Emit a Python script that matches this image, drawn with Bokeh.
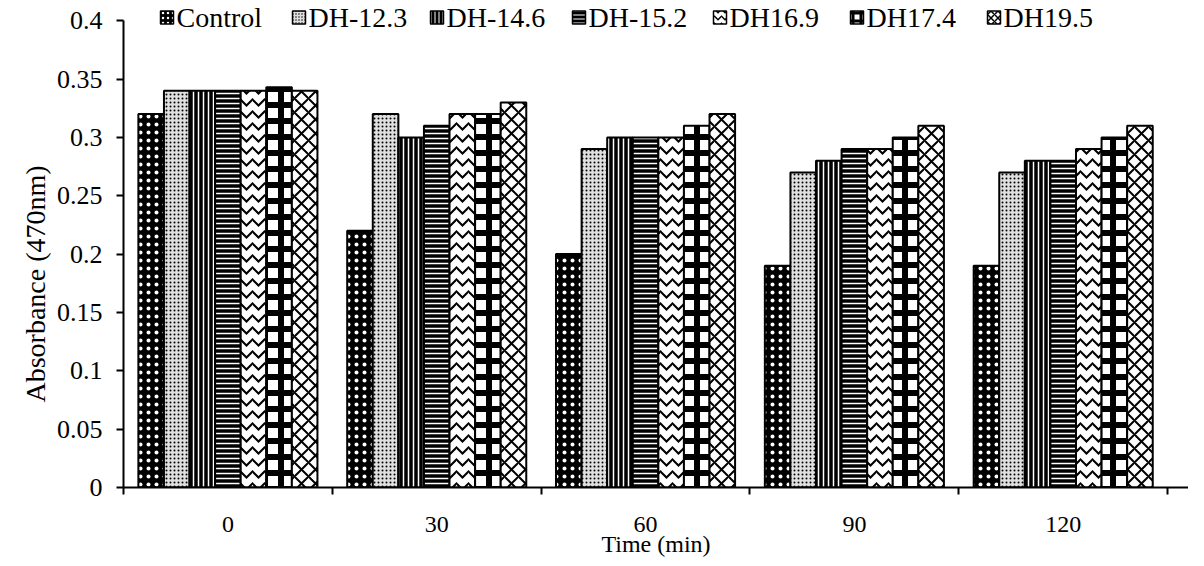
from bokeh.plotting import figure
from bokeh.models import ColumnDataSource, FixedTicker, Range1d, Title
from bokeh.core.properties import value
from bokeh.transform import dodge
from bokeh.embed import file_html
from bokeh.resources import INLINE

times = ["0", "30", "60", "90", "120"]
series = ["Control", "DH-12.3", "DH-14.6", "DH-15.2", "DH16.9", "DH17.4", "DH19.5"]
control = [0.32, 0.22, 0.20, 0.19, 0.19]
dh_12_3 = [0.34, 0.32, 0.29, 0.27, 0.27]
dh_14_6 = [0.34, 0.30, 0.30, 0.28, 0.28]
dh_15_2 = [0.34, 0.31, 0.30, 0.29, 0.28]
dh_16_9 = [0.34, 0.32, 0.30, 0.29, 0.29]
dh_17_4 = [0.343, 0.32, 0.31, 0.30, 0.30]
dh_19_5 = [0.34, 0.33, 0.32, 0.31, 0.31]
values = [control, dh_12_3, dh_14_6, dh_15_2, dh_16_9, dh_17_4, dh_19_5]
y_ticks = [0, 0.05, 0.1, 0.15, 0.2, 0.25, 0.3, 0.35, 0.4]

FONT = "Liberation Serif"

# layout constants
W, H = 1188, 560
LEFT, BOTTOM = 123, 73
X0, X1 = -0.5, 4.6
Y1 = 0.4173
px_per_x = (W - LEFT) / (X1 - X0)
legend_px = [37, 169, 307, 449, 590, 727, 864]   # legend item left edges, px from frame left
legend_y = 0.4028
GLYPH = 13

data = {"idx": list(range(len(times)))}
for name, vals in zip(series, values):
    data[name] = vals
src = ColumnDataSource(data)

p = figure(width=W, height=H, output_backend="svg", toolbar_location=None,
           x_range=Range1d(X0, X1), y_range=Range1d(0, Y1),
           min_border_left=LEFT, min_border_right=0, min_border_top=0, min_border_bottom=BOTTOM)
p.outline_line_color = None
p.xgrid.visible = False
p.ygrid.visible = False

styles = [
    dict(fill_color="black", hatch_pattern="dot", hatch_color="white", hatch_scale=8, hatch_weight=3),
    dict(fill_color="#e0e0e0", hatch_pattern="dot", hatch_color="black", hatch_scale=4, hatch_weight=1),
    dict(fill_color="black", hatch_pattern="vertical_line", hatch_color="white", hatch_scale=5, hatch_weight=1.5),
    dict(fill_color="black", hatch_pattern="horizontal_line", hatch_color="white", hatch_scale=5, hatch_weight=1.5),
    dict(fill_color="white", hatch_pattern="horizontal_wave", hatch_color="black", hatch_scale=12, hatch_weight=2),
    dict(fill_color="white", hatch_pattern="cross", hatch_color="black", hatch_scale=16, hatch_weight=6),
    dict(fill_color="white", hatch_pattern="diagonal_cross", hatch_color="black", hatch_scale=14, hatch_weight=2),
]
legend_styles = [
    dict(fill_color="black", hatch_pattern="dot", hatch_color="white", hatch_scale=5, hatch_weight=2),
    dict(fill_color="#e0e0e0", hatch_pattern="dot", hatch_color="black", hatch_scale=3, hatch_weight=1),
    dict(fill_color="black", hatch_pattern="vertical_line", hatch_color="white", hatch_scale=4, hatch_weight=1),
    dict(fill_color="black", hatch_pattern="horizontal_line", hatch_color="white", hatch_scale=4, hatch_weight=1),
    dict(fill_color="white", hatch_pattern="horizontal_wave", hatch_color="black", hatch_scale=7, hatch_weight=1.5),
    dict(fill_color="white", hatch_pattern="cross", hatch_color="black", hatch_scale=8, hatch_weight=3),
    dict(fill_color="white", hatch_pattern="diagonal_cross", hatch_color="black", hatch_scale=7, hatch_weight=1.5),
]

bw = 0.1225
for i, (name, st) in enumerate(zip(series, styles)):
    p.vbar(x=dodge("idx", (i - 3) * bw, range=p.x_range), top=name, width=bw, source=src,
           line_color="black", line_width=2, **st)

# legend drawn with glyphs
for i, (name, st) in enumerate(zip(series, legend_styles)):
    gx = X0 + (legend_px[i] + GLYPH / 2) / px_per_x
    tx = X0 + (legend_px[i] + GLYPH + 3) / px_per_x
    p.rect(x=[gx], y=[legend_y], width=GLYPH, height=GLYPH, width_units="screen",
           height_units="screen", line_color="black", line_width=1.5, **st)
    p.text(x=[tx], y=[legend_y], text=[name], text_font=value(FONT), text_font_size="28px",
           text_font_style="normal", text_baseline="middle", text_align="left", text_color="black")

# x axis
p.xaxis.ticker = FixedTicker(ticks=list(range(len(times))), minor_ticks=[k - 0.5 for k in range(len(times) + 1)])
p.xaxis.major_label_overrides = {k: t for k, t in enumerate(times)}
p.xaxis.major_tick_out = 0
p.xaxis.major_tick_in = 0
p.xaxis.minor_tick_out = 7
p.xaxis.minor_tick_in = 0
p.xaxis.major_label_standoff = 22
p.xaxis.axis_label = "Time (min)"
p.xaxis.axis_label_standoff = -4

# y axis
p.yaxis.ticker = FixedTicker(ticks=y_ticks)
p.yaxis.bounds = (y_ticks[0], y_ticks[-1])
p.yaxis.major_tick_out = 7
p.yaxis.major_tick_in = 0
p.yaxis.minor_tick_out = 0
p.yaxis.minor_tick_in = 0
p.yaxis.major_label_standoff = 14

for ax in (p.xaxis[0], p.yaxis[0]):
    ax.axis_line_color = "black"
    ax.axis_line_width = 2
    ax.major_tick_line_width = 2
    ax.minor_tick_line_width = 2
    ax.major_label_text_font = FONT
    ax.major_label_text_font_size = "24px"
    ax.major_label_text_font_style = "normal"
    ax.major_label_text_color = "black"
    ax.axis_label_text_font = FONT
    ax.axis_label_text_font_size = "24px"
    ax.axis_label_text_font_style = "normal"
    ax.axis_label_text_color = "black"

p.yaxis.major_label_text_font_size = "26px"

ytitle = Title(text="Absorbance (470nm)", align="left", offset=85, standoff=6,
               text_font=FONT, text_font_size="28px", text_font_style="normal",
               text_color="black")
p.add_layout(ytitle, "left")

open("out.html", "w").write(file_html(p, INLINE))
